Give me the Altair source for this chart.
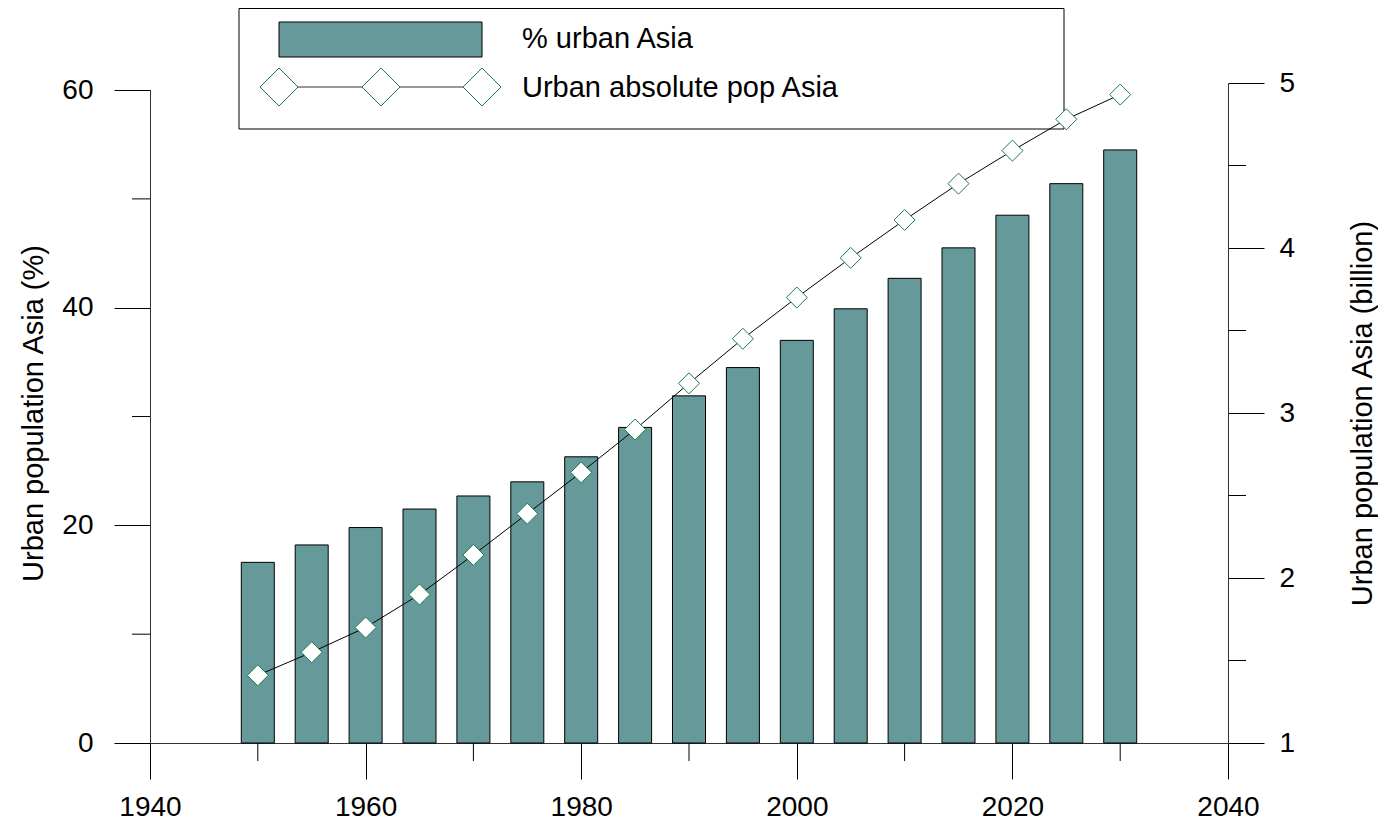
import altair as alt
import pandas as pd

# ---- data ----
years = [1950, 1955, 1960, 1965, 1970, 1975, 1980, 1985, 1990, 1995,
         2000, 2005, 2010, 2015, 2020, 2025, 2030]
pct_urban_asia = [16.6, 18.2, 19.8, 21.5, 22.7, 24.0, 26.3, 29.0, 31.9, 34.5,
                  37.0, 39.9, 42.7, 45.5, 48.5, 51.4, 54.5]
urban_pop_asia_bn = [1.41, 1.55, 1.70, 1.90, 2.14, 2.39, 2.64, 2.90, 3.18, 3.45,
                     3.70, 3.94, 4.17, 4.39, 4.59, 4.78, 4.93]

x_major = [1940, 1960, 1980, 2000, 2020, 2040]
x_minor = [1950, 1970, 1990, 2010, 2030]
left_major = [0, 20, 40, 60]
left_minor = [10, 30, 50]
right_major = [1, 2, 3, 4, 5]
right_minor = [1.5, 2.5, 3.5, 4.5]

legend_labels = ["% urban Asia", "Urban absolute pop Asia"]
left_title = "Urban population Asia (%)"
right_title = "Urban population Asia (billion)"

# ---- layout / style ----
W, H = 1078, 660
FONT = "Liberation Sans"
BAR_FILL = "#669999"
MARK_GREEN = "#1b7b45"

df = pd.DataFrame({"year": years, "pct": pct_urban_asia, "pop": urban_pop_asia_bn})
df_xminor = pd.DataFrame({"yr": x_minor})
df_lminor = pd.DataFrame({"v": left_minor})
df_rminor = pd.DataFrame({"v": right_minor})
df_ldomain = pd.DataFrame({"lo": [min(left_major)], "hi": [max(left_major)]})
one = alt.Data(values=[{}])

x_scale = alt.Scale(domain=[1940, 2040], nice=False, zero=False, padding=0)
yl_scale = alt.Scale(domain=[0, 60.65], nice=False, zero=True, padding=0)
yr_scale = alt.Scale(domain=[1, 5], nice=False, zero=False, padding=0)

x_axis = alt.Axis(values=x_major, format="d", tickSize=36, labelFontSize=28,
                  labelPadding=14, title=None, grid=False, labelFlush=False,
                  labelOverlap=False, domainColor="#333333", tickColor="black",
                  labelColor="black", labelFont=FONT)
yl_axis = alt.Axis(values=left_major, format="d", tickSize=36, labelFontSize=28,
                   labelPadding=21, grid=False, labelOverlap=False, domain=False,
                   tickColor="black", labelColor="black",
                   labelFont=FONT, title=left_title, titleFont=FONT,
                   titleFontSize=29, titleFontWeight="normal", titleColor="black",
                   titleAngle=270, titleBaseline="alphabetic", titleAlign="center",
                   titleX=-108, titleY=H / 2)
yr_axis = alt.Axis(values=right_major, format="d", orient="right", tickSize=36,
                   labelFontSize=28, labelPadding=15, grid=False, labelOverlap=False,
                   domainColor="#333333", tickColor="black", labelColor="black",
                   labelFont=FONT, title=right_title, titleFont=FONT,
                   titleFontSize=29, titleFontWeight="normal", titleColor="black",
                   titleAngle=270, titleBaseline="alphabetic", titleAlign="center",
                   titleX=143, titleY=H / 2)

bars = alt.Chart(df).mark_bar(size=33, fill=BAR_FILL, stroke="black", strokeWidth=1).encode(
    x=alt.X("year:Q", scale=x_scale, axis=x_axis),
    y=alt.Y("pct:Q", scale=yl_scale, axis=yl_axis),
)

x_minor_ticks = alt.Chart(df_xminor).mark_rule(color="black", strokeWidth=1).encode(
    x=alt.X("yr:Q", scale=x_scale, axis=x_axis),
    y=alt.value(H), y2=alt.value(H + 18),
)

l_minor_ticks = alt.Chart(df_lminor).mark_rule(color="black", strokeWidth=1).encode(
    y=alt.Y("v:Q", scale=yl_scale, axis=yl_axis),
    x=alt.value(-18), x2=alt.value(0),
)

l_domain = alt.Chart(df_ldomain).mark_rule(color="#333333", strokeWidth=1).encode(
    y=alt.Y("lo:Q", scale=yl_scale, axis=yl_axis),
    y2="hi:Q",
    x=alt.value(0.5),
)

# legend (drawn by hand, as in the reference)
leg_box = alt.Chart(one).mark_rect(fill="white", stroke="black", strokeWidth=1).encode(
    x=alt.value(89), x2=alt.value(914), y=alt.value(-74.5), y2=alt.value(46))
leg_bar = alt.Chart(one).mark_rect(fill=BAR_FILL, stroke="black", strokeWidth=1).encode(
    x=alt.value(129), x2=alt.value(332), y=alt.value(-61), y2=alt.value(-26))
leg_line = alt.Chart(one).mark_rule(color="#333333", strokeWidth=1).encode(
    x=alt.value(129), x2=alt.value(332), y=alt.value(4))
leg_pts = [
    alt.Chart(one).mark_point(shape="diamond", filled=True, fill="white", stroke=MARK_GREEN,
                              strokeWidth=1, size=1444, opacity=1).encode(
        x=alt.value(px), y=alt.value(4))
    for px in (129, 231, 332)
]
leg_txt = [
    alt.Chart(one).mark_text(align="left", baseline="middle", font=FONT, fontSize=29,
                             color="black").encode(
        x=alt.value(372), y=alt.value(py), text=alt.value(lbl))
    for lbl, py in zip(legend_labels, (-44, 5))
]

left_group = alt.layer(bars, x_minor_ticks, l_minor_ticks, l_domain, leg_box, leg_bar,
                       leg_line, *leg_pts, *leg_txt)

line = alt.Chart(df).mark_line(color="black", strokeWidth=1).encode(
    x=alt.X("year:Q", scale=x_scale, axis=x_axis),
    y=alt.Y("pop:Q", scale=yr_scale, axis=yr_axis),
)
points = alt.Chart(df).mark_point(shape="diamond", filled=True, fill="white", stroke=MARK_GREEN,
                                  strokeWidth=1, size=441, opacity=1).encode(
    x=alt.X("year:Q", scale=x_scale, axis=x_axis),
    y=alt.Y("pop:Q", scale=yr_scale, axis=yr_axis),
)
r_minor_ticks = alt.Chart(df_rminor).mark_rule(color="black", strokeWidth=1).encode(
    y=alt.Y("v:Q", scale=yr_scale, axis=yr_axis),
    x=alt.value(W), x2=alt.value(W + 18),
)

right_group = alt.layer(line, points, r_minor_ticks)

chart = alt.layer(left_group, right_group).resolve_scale(y="independent").properties(
    width=W, height=H, autosize="none",
    padding={"left": 142, "top": 75, "right": 150, "bottom": 79},
).configure(font=FONT).configure_view(stroke=None)

chart.save("out.html", embed_options={"renderer": "svg", "actions": False})
